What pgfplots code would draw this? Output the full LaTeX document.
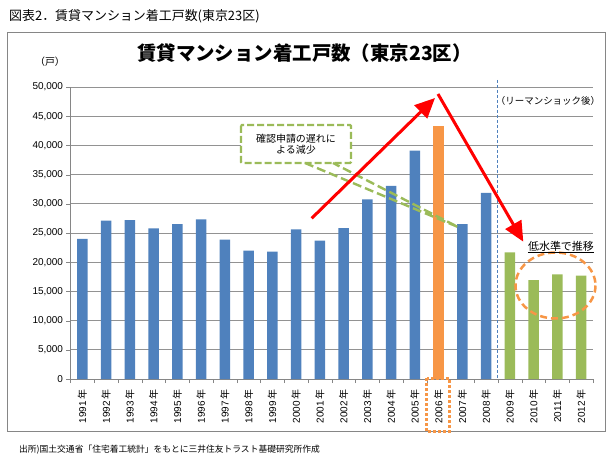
\documentclass[border=0pt]{standalone}
\usepackage{fontspec}
\setmainfont{Liberation Sans}
\newfontfamily\jp{Noto Sans CJK JP}
\usepackage{pgfplots}
\pgfplotsset{compat=1.18}
\usetikzlibrary{arrows.meta}
\definecolor{barblue}{RGB}{79,129,189}
\definecolor{barorange}{RGB}{247,150,70}
\definecolor{bargreen}{RGB}{155,187,89}
\definecolor{gridgray}{RGB}{134,134,134}
\begin{document}
\begin{tikzpicture}
\useasboundingbox (-70.5bp,-84bp) rectangle (544.5bp,379bp);
\begin{axis}[
  scale only axis, width=522.5bp, height=292bp,
  xmin=-0.5, xmax=21.5, ymin=0, ymax=50000,
  axis x line*=bottom, axis y line*=left,
  axis line style={draw=gridgray, -},
  ymajorgrids, grid style={draw=gridgray!90, line width=0.8bp},
  ytick={0,5000,...,50000},
  scaled y ticks=false,
  /pgf/number format/1000 sep={,},
  /pgf/number format/assume math mode=true,
  yticklabel style={font=\fontsize{10}{12}\selectfont},
  xtick={0,...,21},
  xticklabels={1991\,{\jp 年},1992\,{\jp 年},1993\,{\jp 年},1994\,{\jp 年},1995\,{\jp 年},1996\,{\jp 年},1997\,{\jp 年},1998\,{\jp 年},1999\,{\jp 年},2000\,{\jp 年},2001\,{\jp 年},2002\,{\jp 年},2003\,{\jp 年},2004\,{\jp 年},2005\,{\jp 年},2006\,{\jp 年},2007\,{\jp 年},2008\,{\jp 年},2009\,{\jp 年},2010\,{\jp 年},2011\,{\jp 年},2012\,{\jp 年}},
  xticklabel style={rotate=90, anchor=east, font=\fontsize{10}{12}\selectfont, xshift=-3bp},
  major x tick style={draw=none},
  minor xtick={-0.5,0.5,...,21.5},
  minor x tick style={draw=gridgray},
  major y tick style={draw=gridgray},
  tick align=outside,
  major tick length=4bp, minor tick length=4bp,
  clip=false,
]
\addplot[ybar, bar width=10.5bp, bar shift=0pt, fill=barblue, draw=none] coordinates {
(0,24000) (1,27100) (2,27200) (3,25800) (4,26500) (5,27350) (6,23850) (7,22000)
(8,21800) (9,25600) (10,23700) (11,25850) (12,30750) (13,33050) (14,39100)
(16,26500) (17,31850)};
\addplot[ybar, bar width=10.5bp, bar shift=0pt, fill=barorange, draw=none] coordinates {(15,43400)};
\addplot[ybar, bar width=10.5bp, bar shift=0pt, fill=bargreen, draw=none] coordinates {(18,21700) (19,16950) (20,17900) (21,17700)};
\end{axis}
\begin{scope}[x=1bp,y=-1bp,shift={(-70.5bp,379bp)}]
\draw[gridgray, line width=1bp] (7.5,32.5) rectangle (606,432);
\node[anchor=west, inner sep=0pt, font=\jp\fontsize{13}{15}\selectfont] at (9,16) {図表2．賃貸マンション着工戸数(東京23区)};
\node[font=\jp\fontsize{10}{12}\selectfont] at (50,62) {（戸）};
\node[font=\jp\bfseries\fontsize{19.5}{23}\selectfont] at (304.5,53) {賃貸マンション着工戸数（東京23区）};
\node[font=\jp\fontsize{9.5}{11}\selectfont] at (548,101) {（リーマンショック後）};
\draw[barblue, line width=0.75bp, dash pattern=on 3bp off 2bp] (497,80) -- (497,379);
% callout
\draw[bargreen, line width=2.2bp, dash pattern=on 7bp off 3bp, fill=white, rounded corners=1bp] (241,125) rectangle (351,163);
\node[font=\jp\fontsize{10}{12}\selectfont, align=center] at (296,144) {確認申請の遅れに\\[-1bp]よる減少};
\draw[bargreen, line width=2.4bp, dash pattern=on 9bp off 4bp] (305,163) -- (458,227) -- (333,163);
% arrows
\draw[red, line width=3bp, -{Triangle[length=20bp,width=18bp]}] (311.7,218.3) -- (435,98);
\draw[red, line width=3bp, -{Triangle[length=20bp,width=18bp]}] (438,94) -- (523.3,241.7);
% ellipse
\draw[barorange, line width=2.5bp, dash pattern=on 7bp off 4bp] (555.5,285.5) ellipse [x radius=40, y radius=33];
\node[font=\jp\fontsize{11}{13}\selectfont, inner sep=0pt] (lv) at (561,246) {低水準で推移};
\draw[black, line width=0.6bp] (lv.south west) ++(0,1.5) -- ++(66,0);
% dotted box 2006
\draw[barorange, line width=2.5bp, dash pattern=on 2.5bp off 2.5bp] (426.7,378.3) rectangle (449.3,431.7);
\node[anchor=west, inner sep=0pt, font=\jp\fontsize{8.8}{10}\selectfont] at (19,450) {出所)国土交通省「住宅着工統計」をもとに三井住友トラスト基礎研究所作成};
\end{scope}
\end{tikzpicture}
\end{document}
